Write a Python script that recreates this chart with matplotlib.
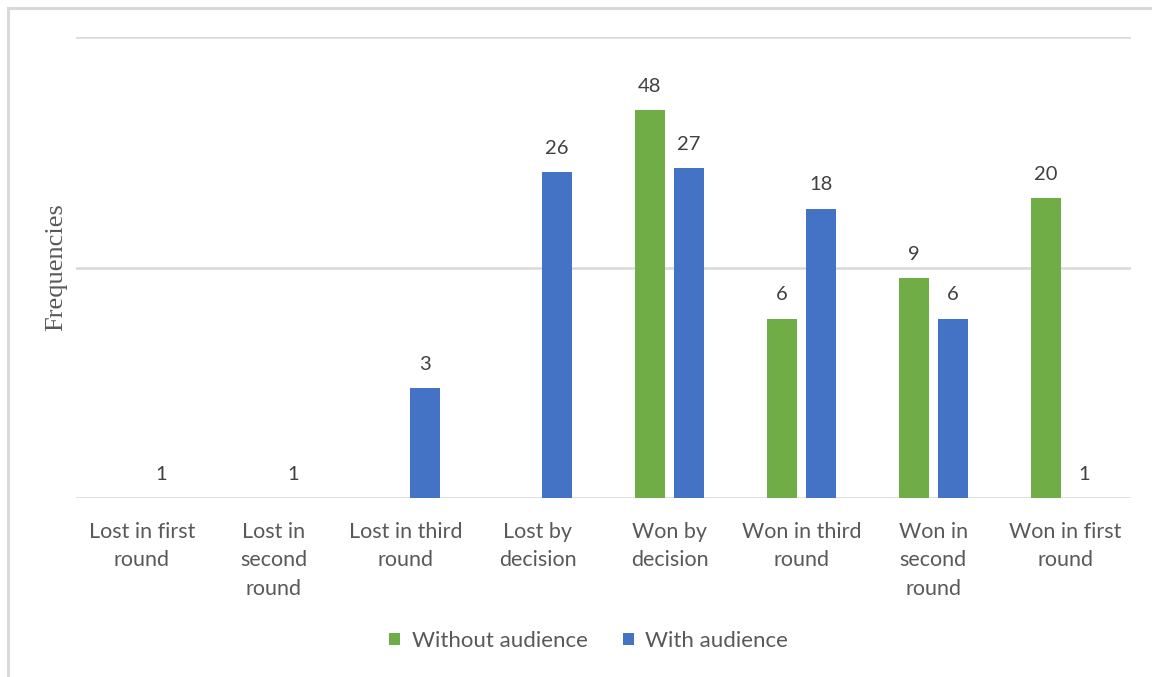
import numpy as np
import matplotlib.pyplot as plt
from matplotlib.patches import Rectangle

# outcome categories and counts per condition
categories = ["Lost in first\nround", "Lost in\nsecond\nround", "Lost in third\nround",
              "Lost by\ndecision", "Won by\ndecision", "Won in third\nround",
              "Won in\nsecond\nround", "Won in first\nround"]
without_audience = [np.nan, np.nan, np.nan, np.nan, 48, 6, 9, 20]
with_audience = [1, 1, 3, 26, 27, 18, 6, 1]

GREEN = "#70AD47"
BLUE = "#4472C4"
TEXT = "#595959"
GRID = "#D9D9D9"

plt.rcParams["font.family"] = ["Lato", "DejaVu Sans"]

fig = plt.figure(figsize=(11.52, 6.77), dpi=100)
ax = fig.add_axes([76 / 1152, 1 - 498 / 677, (1131 - 76) / 1152, (498 - 37) / 677])

# light frame around the chart
fig.patches.append(Rectangle((8 / 1152, -0.1), 1.2, 1 - 8 / 677 + 0.1, transform=fig.transFigure,
                             fill=False, edgecolor=GRID, linewidth=2.2))

x = np.arange(len(categories))
width = 0.227
offset = 0.148

ax.set_yscale("log")
ax.set_ylim(1, 100)
ax.set_xlim(-0.5, len(categories) - 0.5)

series = [(without_audience, -offset, GREEN, "Without audience"),
          (with_audience, offset, BLUE, "With audience")]
for values, dx, color, label in series:
    vals = np.array(values, dtype=float)
    bars = ax.bar(x + dx, vals - 1, width, bottom=1, color=color, label=label, zorder=3)
    for xi, v in zip(x + dx, vals):
        if np.isnan(v):
            continue
        ax.annotate(f"{int(v)}", (xi, v), xytext=(0, 11), textcoords="offset points",
                    ha="center", va="bottom", fontsize=14.5, color="#404040")

ax.grid(axis="y", which="major", color=GRID, linewidth=1.8, zorder=0)
ax.grid(axis="y", which="minor", visible=False)
ax.yaxis.set_major_locator(plt.FixedLocator([1, 10, 100]))
ax.yaxis.set_minor_locator(plt.NullLocator())
ax.set_yticklabels([])
ax.tick_params(axis="y", length=0)

for side in ["top", "right", "left", "bottom"]:
    ax.spines[side].set_visible(False)

ax.set_xticks(x)
ax.set_xticklabels(categories, fontsize=15.5, color=TEXT, linespacing=1.55)
ax.tick_params(axis="x", length=0, pad=17)

ax.set_ylabel("Frequencies", family="Liberation Serif", fontsize=19, color=TEXT)
ax.yaxis.set_label_coords(-0.0085, 0.5)

ax.legend(loc="center", bbox_to_anchor=(0.511, 1 - 641 / 677), bbox_transform=fig.transFigure,
          ncol=2, frameon=False, fontsize=16, handlelength=0.5, handleheight=0.5,
          columnspacing=1.6, handletextpad=0.5, labelcolor=TEXT)

fig.savefig("out.png", dpi=100)
plt.close(fig)
